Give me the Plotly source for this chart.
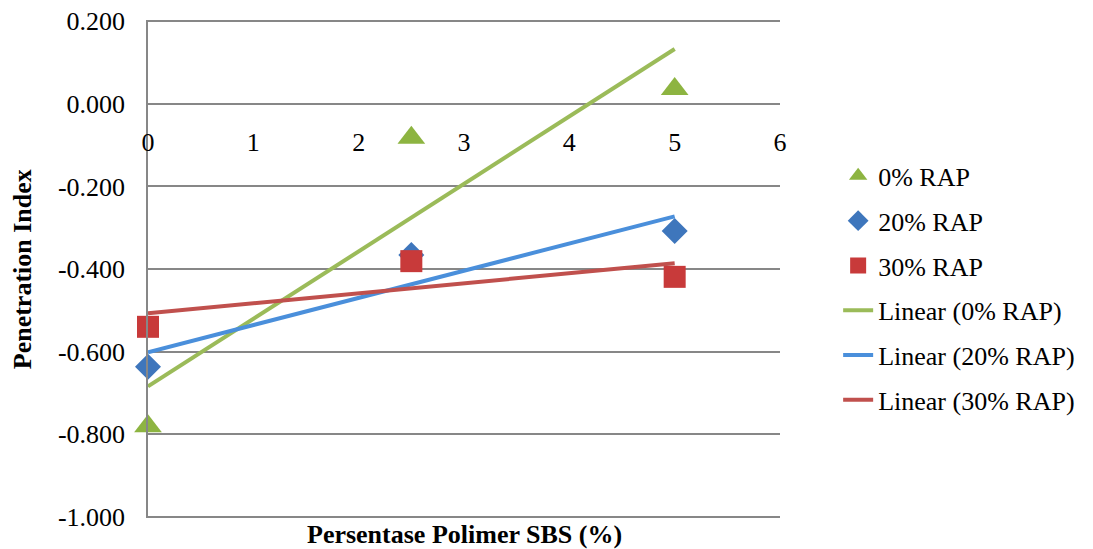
import numpy as np
import plotly.graph_objects as go

sbs = [0, 2.5, 5]
rap0 = [-0.781, -0.082, 0.036]
rap20 = [-0.637, -0.366, -0.308]
rap30 = [-0.540, -0.381, -0.419]
series_names = ["0% RAP", "20% RAP", "30% RAP"]
x_ticks = [0, 1, 2, 3, 4, 5, 6]
y_ticks = [0.2, 0.0, -0.2, -0.4, -0.6, -0.8, -1.0]
y_ticktext = [f"{v:.3f}" for v in y_ticks]

marker_colors = ["#8DB441", "#3E76BC", "#C83A3A"]
line_colors = ["#9BBB59", "#4A8FDB", "#C0504D"]
symbols = ["triangle-up", "diamond", "square"]
sizes = [24, 20, 22]

FONT = "Liberation Serif, Times New Roman, serif"

fig = go.Figure()
all_series = [rap0, rap20, rap30]
for i, (name, ys) in enumerate(zip(series_names, all_series)):
    fig.add_trace(go.Scatter(
        x=sbs, y=ys, mode="markers", name=name,
        marker=dict(symbol=symbols[i], size=sizes[i], color=marker_colors[i]),
        cliponaxis=False, legendgroup=f"g{i}",
    ))
for i, (name, ys) in enumerate(zip(series_names, all_series)):
    slope, icpt = np.polyfit(sbs, ys, 1)
    xs = [min(sbs), max(sbs)]
    fig.add_trace(go.Scatter(
        x=xs, y=[icpt + slope * v for v in xs], mode="lines",
        name=f"Linear ({name})",
        line=dict(color=line_colors[i], width=4),
        cliponaxis=False, legendgroup=f"l{i}",
    ))

# page body has an 8px margin, so the figure is 8px smaller and shifted
fig.update_layout(
    width=1085, height=541,
    margin=dict(l=140, r=313, t=12, b=31),
    paper_bgcolor="white", plot_bgcolor="white",
    font=dict(family=FONT, size=26, color="black"),
    showlegend=True,
    legend=dict(x=1.092, y=0.734, xanchor="left", yanchor="top",
                font=dict(family=FONT, size=26), tracegroupgap=8,
                traceorder="grouped", bgcolor="rgba(0,0,0,0)"),
    xaxis=dict(range=[0, 6], tickvals=x_ticks, showgrid=False, zeroline=False,
               showline=False, anchor="free", position=1 / 1.2, automargin=False,
               ticks="outside", ticklen=16, tickcolor="rgba(0,0,0,0)",
               tickfont=dict(family=FONT, size=26)),
    yaxis=dict(range=[-1.003, 0.203], tickvals=y_ticks, ticktext=y_ticktext,
               showgrid=True, gridcolor="#878787", gridwidth=1.5, automargin=False,
               zeroline=False, showline=True, linecolor="#878787", linewidth=1.5,
               ticks="outside", ticklen=16, tickcolor="rgba(0,0,0,0)",
               ticklabeloverflow="allow",
               tickfont=dict(family=FONT, size=26)),
    annotations=[
        dict(text="<b>Persentase Polimer SBS (%)</b>", xref="paper", yref="paper",
             x=0.5, y=-0.034, xanchor="center", yanchor="middle", showarrow=False,
             font=dict(family=FONT, size=26)),
        dict(text="<b>Penetration Index</b>", xref="paper", yref="paper",
             x=-0.199, y=0.5, xanchor="center", yanchor="middle", showarrow=False,
             textangle=-90, font=dict(family=FONT, size=26)),
    ],
)

fig.write_html("out.html")
